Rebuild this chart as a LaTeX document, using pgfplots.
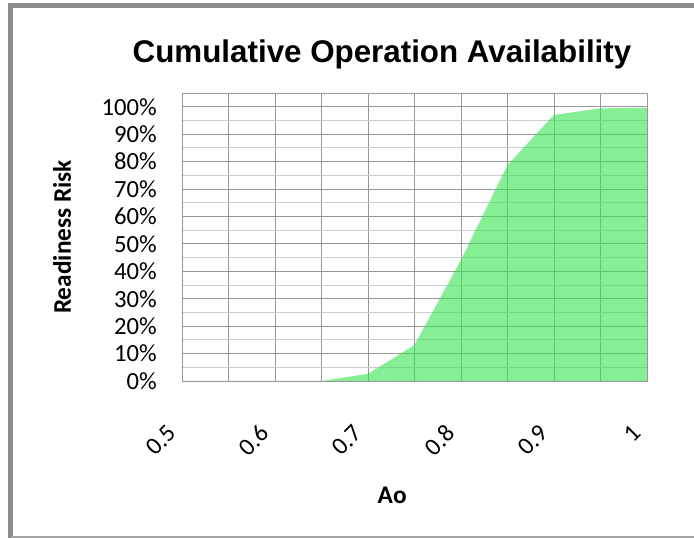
\documentclass[border=0pt]{standalone}
\usepackage{fontspec}
\setmainfont{Carlito}
\newfontfamily\titlefont{Liberation Sans}
\usepackage{pgfplots}
\pgfplotsset{compat=1.18}

\definecolor{areagreen}{RGB}{53,228,80}
\definecolor{gridmajor}{RGB}{150,150,150}
\definecolor{gridminor}{RGB}{205,205,205}
\definecolor{framegray}{RGB}{140,140,140}

\begin{document}
\begin{tikzpicture}
\useasboundingbox (0,0) rectangle (520.5pt,403.5pt);
% outer frame
\draw[framegray, line width=3.75pt] (8.1pt,0pt) -- (8.1pt,399.4pt) -- (525pt,399.4pt);
\draw[gridminor!80!black, line width=1.1pt] (8.1pt,0.6pt) -- (525pt,0.6pt);
% title
\node[anchor=base, font=\titlefont\bfseries\fontsize{23.5}{26}\selectfont] at (286.5pt,356.25pt) {Cumulative Operation Availability};

\begin{axis}[
  at={(136.5pt,117.75pt)}, anchor=south west,
  scale only axis, width=348.75pt, height=216pt,
  xmin=0.5, xmax=1, ymin=0, ymax=105,
  xtick={0.5,0.6,0.7,0.8,0.9,1},
  xticklabels={0.5,0.6,0.7,0.8,0.9,1},
  minor xtick={0.55,0.65,0.75,0.85,0.95},
  ytick={0,10,20,30,40,50,60,70,80,90,100},
  yticklabels={0\%,10\%,20\%,30\%,40\%,50\%,60\%,70\%,80\%,90\%,100\%},
  minor ytick={5,15,25,35,45,55,65,75,85,95,105},
  major tick length=0pt, minor tick length=0pt,
  grid=both,
  major grid style={gridmajor, line width=0.7pt},
  minor y grid style={gridminor, line width=0.7pt},
  minor x grid style={gridmajor, line width=0.7pt},
  axis line style={gridmajor, line width=0.7pt},
  tick label style={font=\fontsize{18.5}{20}\selectfont},
  yticklabel style={inner sep=0pt, xshift=-18.75pt},
  xticklabel style={xshift=-7.5pt, yshift=-36pt, rotate=45, anchor=east, inner sep=0pt},
  xlabel={Ao}, ylabel={Readiness Risk},
  label style={font=\bfseries\fontsize{19}{21}\selectfont},
  xlabel style={at={(axis description cs:0.452,-0.396)}, anchor=center},
  ylabel style={at={(axis description cs:-0.258,0.5)}, anchor=center},
]
\addplot[draw=none, fill=areagreen, fill opacity=0.6] coordinates {
  (0.5,0) (0.55,0) (0.6,0) (0.65,0) (0.7,2.6) (0.75,13.1) (0.8,44.1)
  (0.85,78.7) (0.9,97.0) (0.95,99.4) (1,99.6)
} \closedcycle;
\end{axis}
\end{tikzpicture}
\end{document}
